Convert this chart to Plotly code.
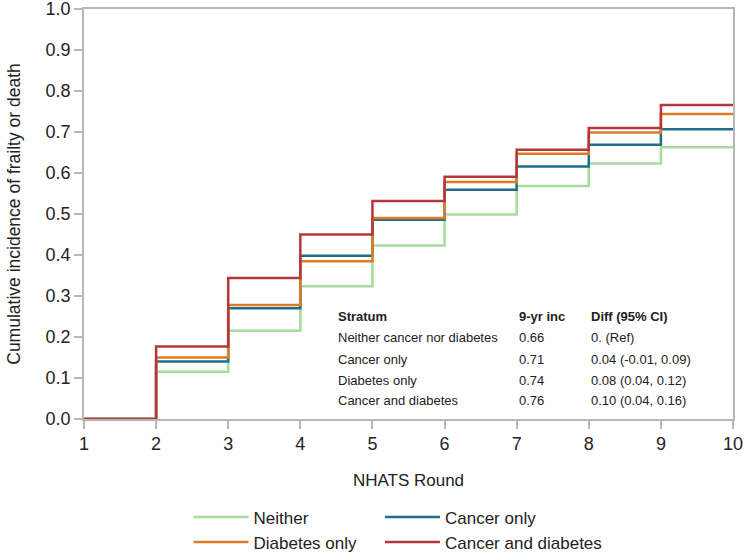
import plotly.graph_objects as go

rounds = [1, 2, 3, 4, 5, 6, 7, 8, 9, 10]
neither = [0, 0.115, 0.215, 0.324, 0.423, 0.499, 0.568, 0.623, 0.663, 0.663]
cancer_only = [0, 0.140, 0.270, 0.398, 0.486, 0.559, 0.616, 0.669, 0.707, 0.707]
diabetes_only = [0, 0.150, 0.278, 0.385, 0.490, 0.578, 0.647, 0.699, 0.744, 0.744]
cancer_diab = [0, 0.177, 0.344, 0.450, 0.532, 0.591, 0.657, 0.710, 0.766, 0.766]

series_names = ["Neither", "Cancer only", "Diabetes only", "Cancer and diabetes"]
colors = ["#a6dc9c", "#1f6f8b", "#e07b24", "#b5373b"]
legend_ids = ["legend", "legend2", "legend", "legend2"]

table_header = ["Stratum", "9-yr inc", "Diff (95% CI)"]
table_strata = ["Neither cancer nor diabetes", "Cancer only", "Diabetes only", "Cancer and diabetes"]
table_inc = ["0.66", "0.71", "0.74", "0.76"]
table_diff = ["0. (Ref)", "0.04 (-0.01, 0.09)", "0.08 (0.04, 0.12)", "0.10 (0.04, 0.16)"]

font_family = "Liberation Sans, Arial, sans-serif"

fig = go.Figure()
for name, ys, col, lg in zip(series_names, [neither, cancer_only, diabetes_only, cancer_diab], colors, legend_ids):
    fig.add_trace(go.Scatter(x=rounds, y=ys, mode="lines", name=name, line_shape="hv",
                             line=dict(color=col, width=2.5), legend=lg))

axis_color = "#b4b8ba"
fig.update_layout(
    width=744, height=552,
    margin=dict(l=84, r=11, t=9, b=133, autoexpand=False),
    paper_bgcolor="white", plot_bgcolor="white",
    font=dict(family=font_family, color="#222222", size=17),
    xaxis=dict(range=[1, 10], tickvals=rounds, showgrid=False, zeroline=False, automargin=False,
               showline=True, linecolor=axis_color, linewidth=1.5, mirror=True,
               ticks="outside", ticklen=8, tickcolor=axis_color, tickwidth=1.5,
               tickfont=dict(size=18), ticklabeloverflow="allow",
               title=dict(text="NHATS Round", font=dict(size=17), standoff=21)),
    yaxis=dict(range=[0, 1], dtick=0.1, tickformat=".1f", showgrid=False, zeroline=False, automargin=False,
               showline=True, linecolor=axis_color, linewidth=1.5, mirror=True,
               ticks="outside", ticklen=8, tickcolor=axis_color, tickwidth=1.5,
               tickfont=dict(size=18), ticklabeloverflow="allow",
               title=dict(text="Cumulative incidence of frailty or death", font=dict(size=17.5), standoff=20)),
    legend=dict(x=0.161, y=-0.196, xanchor="left", yanchor="top", orientation="v",
                font=dict(size=17), tracegroupgap=0, itemwidth=55, bgcolor="rgba(0,0,0,0)"),
    legend2=dict(x=0.456, y=-0.196, xanchor="left", yanchor="top", orientation="v",
                 font=dict(size=17), tracegroupgap=0, itemwidth=55, bgcolor="rgba(0,0,0,0)"),
)

col_x = [4.5, 7.0, 8.0]
row_y = [0.249, 0.198, 0.146, 0.095, 0.046]
for cx, txt in zip(col_x, table_header):
    fig.add_annotation(x=cx, y=row_y[0], xref="x", yref="y", text="<b>" + txt + "</b>",
                       showarrow=False, xanchor="left", yanchor="middle", font=dict(size=13))
for i in range(len(table_strata)):
    for cx, txt in zip(col_x, [table_strata[i], table_inc[i], table_diff[i]]):
        fig.add_annotation(x=cx, y=row_y[i + 1], xref="x", yref="y", text=txt,
                           showarrow=False, xanchor="left", yanchor="middle", font=dict(size=13))

fig.write_html("out.html")
